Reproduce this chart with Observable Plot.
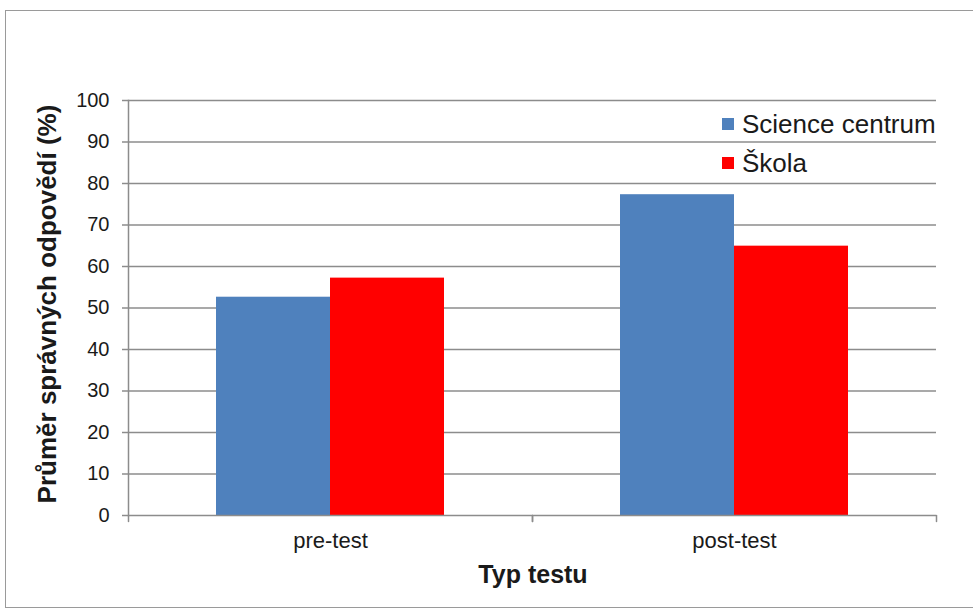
<!DOCTYPE html>
<html>
<head>
<meta charset="utf-8">
<script src="https://cdn.jsdelivr.net/npm/d3@7"></script>
<script src="https://cdn.jsdelivr.net/npm/@observablehq/plot@0.6"></script>
<style>
  body { margin: 0; background: #fff; }
  #wrap { position: relative; width: 973px; height: 610px; overflow: hidden; background: #fff;
          font-family: "Liberation Sans", Arial, sans-serif; color: #1a1a1a; }
  #border { position: absolute; left: 5px; top: 10px; width: 990px; height: 598px;
            border: 1.5px solid #9a9a9a; box-sizing: border-box; }
  #chart { position: absolute; left: 0; top: 0; }
  .leg { position: absolute; font-size: 26px; line-height: 26px; white-space: nowrap; }
  .sw { position: absolute; width: 12px; height: 12px; }
  #ytitle { position: absolute; left: 47px; top: 304px; transform: translate(-50%, -50%) rotate(-90deg);
            font-weight: bold; font-size: 26px; white-space: nowrap; line-height: 26px; }
  #xtitle { position: absolute; left: 533px; top: 562px; transform: translateX(-50%);
            font-weight: bold; font-size: 25px; line-height: 25px; white-space: nowrap; }
</style>
</head>
<body>
<div id="wrap">
  <div id="border"></div>
  <div id="chart"></div>
  <div id="ytitle">Průměr správných odpovědí (%)</div>
  <div id="xtitle">Typ testu</div>
  <div id="legend"></div>
</div>
<script>
const tests = ["pre-test", "post-test"];
const series = ["Science centrum", "Škola"];
const scienceCentrum = [52.6, 77.3];
const skola = [57.2, 64.9];
const yTicks = [0, 10, 20, 30, 40, 50, 60, 70, 80, 90, 100];
const colors = ["#4F81BD", "#FF0000"];

const rows = [];
tests.forEach((t, i) => {
  rows.push({test: t, series: series[0], value: scienceCentrum[i]});
  rows.push({test: t, series: series[1], value: skola[i]});
});

const grey = "#8c8c8c";
const tickShape = {draw(context, l) { context.moveTo(0, 0); context.lineTo(0, -l); }};

const chart = Plot.plot({
  width: 973,
  height: 610,
  marginLeft: 128,
  marginRight: 37,
  marginTop: 100,
  marginBottom: 95,
  style: {fontFamily: "'Liberation Sans', Arial, sans-serif", background: "transparent", color: "#1a1a1a"},
  fx: {domain: tests, padding: 0, label: null, axis: null},
  x: {domain: series, paddingInner: 0, paddingOuter: 0.757, axis: null},
  y: {domain: [0, 100], axis: null},
  color: {domain: series, range: colors},
  marks: [
    Plot.ruleY(yTicks.filter(d => d > 0), {stroke: grey, strokeWidth: 1.5}),
    Plot.barY(rows, {fx: "test", x: "series", y: "value", fill: "series"}),
    Plot.ruleY([0], {stroke: grey, strokeWidth: 1.5}),
    Plot.frame({anchor: "left", stroke: grey, strokeWidth: 1.5, facetAnchor: "left"}),
    Plot.vector([0], {frameAnchor: "bottom-left", rotate: 180, length: 6, anchor: "start", shape: tickShape, stroke: grey, strokeWidth: 1.5}),
    Plot.vector([0], {frameAnchor: "bottom-right", rotate: 180, length: 6, anchor: "start", shape: tickShape, stroke: grey, strokeWidth: 1.5}),
    Plot.axisY({ticks: yTicks, tickSize: 6, tickPadding: 13, fontSize: 20, stroke: grey, strokeWidth: 1.5, fill: "#1a1a1a", label: null}),
    Plot.axisFx({anchor: "bottom", tickSize: 0, tickPadding: 17, fontSize: 22, fill: "#1a1a1a", label: null})
  ]
});
document.getElementById("chart").appendChild(chart);

// Legend
const legend = document.getElementById("legend");
const legTops = [111, 150];
series.forEach((s, i) => {
  const sw = document.createElement("div");
  sw.className = "sw";
  sw.style.left = "722px";
  sw.style.top = (legTops[i] + 7) + "px";
  sw.style.background = colors[i];
  legend.appendChild(sw);
  const t = document.createElement("div");
  t.className = "leg";
  t.style.left = "742px";
  t.style.top = legTops[i] + "px";
  t.textContent = s;
  legend.appendChild(t);
});
</script>
</body>
</html>
